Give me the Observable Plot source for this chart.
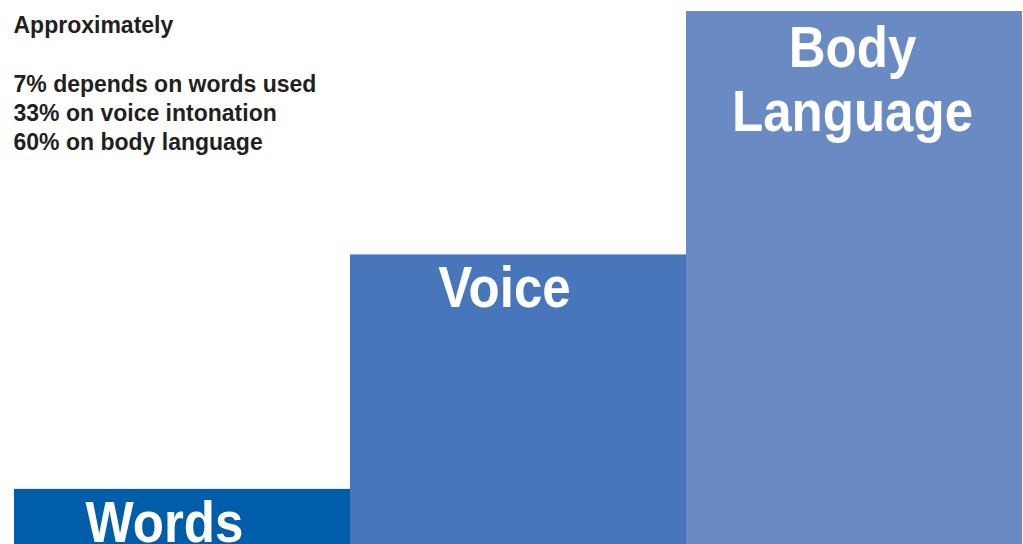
<!DOCTYPE html>
<html>
<head>
<meta charset="utf-8">
<script src="https://cdn.jsdelivr.net/npm/d3@7"></script>
<script src="https://cdn.jsdelivr.net/npm/@observablehq/plot@0.6"></script>
<style>
  html, body { margin: 0; padding: 0; background: #fff; overflow: hidden; }
</style>
</head>
<body>
<div id="chart"></div>
<script>
const categories = ["Words", "Voice", "Body Language"];
const values = [7, 33, 60];
const labels = ["Words", "Voice", "Body\nLanguage"];
const noteLines = ["Approximately", "", "7% depends on words used", "33% on voice intonation", "60% on body language"];

const palette = ["#005DAA", "#4777BA", "#6A8AC4"];

const data = categories.map((c, i) => ({category: c, value: values[i], label: labels[i]}));

const labelFont = "'Liberation Sans', Arial, sans-serif";
const bigLabel = (i, dx, dy) => Plot.text([data[i]], {
  x: "category", y: "value", text: "label",
  dx, dy,
  lineAnchor: "top", textAnchor: "middle",
  fill: "white", fontSize: 58, fontWeight: "bold",
  fontFamily: labelFont, lineHeight: 1.1
});

const chart = Plot.plot({
  width: 1023,
  height: 544,
  margin: 0,
  x: {type: "band", domain: categories, range: [13, 1022], padding: 0, axis: null},
  y: {domain: [0, 60], range: [552, 11], axis: null},
  color: {domain: categories, range: palette},
  marks: [
    Plot.barY(data, {x: "category", y: "value", fill: "category"}),
    bigLabel(0, -18, 7),
    bigLabel(1, -14, 7),
    bigLabel(2, -2, 10),
    Plot.text([noteLines.join("\n")], {
      frameAnchor: "top-left", dx: 13, dy: 12,
      lineAnchor: "top", textAnchor: "start",
      fill: "#231F20", fontSize: 23, fontWeight: "bold",
      fontFamily: "'Liberation Sans', Arial, sans-serif", lineHeight: 1.27
    })
  ]
});
chart.style.background = "white";
// condense the big white labels horizontally around their anchors
chart.querySelectorAll("text").forEach((t) => {
  if (t.getAttribute("fill") === "white" || (t.parentNode && t.parentNode.getAttribute && t.parentNode.getAttribute("fill") === "white")) {
    const tr = t.getAttribute("transform") || "";
    t.setAttribute("transform", tr + " scale(0.88,1)");
  }
});
document.getElementById("chart").appendChild(chart);
</script>
</body>
</html>
